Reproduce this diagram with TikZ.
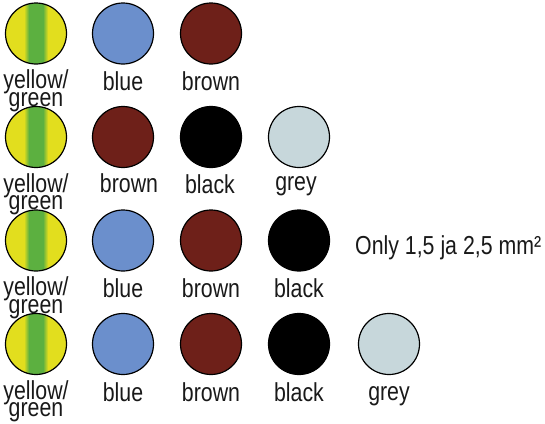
\documentclass[tikz,border=0pt]{standalone}
\usepackage{fontspec}
\setmainfont[FakeStretch=0.82]{Liberation Sans}
\definecolor{ygyellow}{RGB}{226,222,30}
\definecolor{yggreen}{RGB}{92,176,64}
\definecolor{wblue}{RGB}{107,143,204}
\definecolor{wbrown}{RGB}{110,32,25}
\definecolor{wgrey}{RGB}{199,215,219}
\tikzset{
  wire/.style={circle, draw=black, line width=1.2pt, minimum size=61pt, inner sep=0pt},
  yg/.style={wire, path picture={
    \fill[ygyellow] (path picture bounding box.south west) rectangle (path picture bounding box.north east);
    \shade[left color=ygyellow, right color=yggreen] ([xshift=-12pt]path picture bounding box.south) rectangle ([xshift=-7pt]path picture bounding box.north);
    \fill[yggreen] ([xshift=-7pt]path picture bounding box.south) rectangle ([xshift=7pt]path picture bounding box.north);
    \shade[left color=yggreen, right color=ygyellow] ([xshift=7pt]path picture bounding box.south) rectangle ([xshift=12pt]path picture bounding box.north);
  }},
  lbl/.style={anchor=base, inner sep=0pt, font=\fontsize{26}{26}\selectfont, text=black!90},
}
\begin{document}
\begin{tikzpicture}[x=1pt, y=-1pt]
\useasboundingbox (0,0) rectangle (545,423);
% row 1
\node[yg] (yg1) at (36,33.5) {};
\node[wire, fill=wblue] (bl1) at (123,33.5) {};
\node[wire, fill=wbrown] (br1) at (211,33.5) {};
\node[lbl] (tyg1a) at (36,88.5) {yellow/};
\node[lbl] (tyg1b) at (36,106) {green};
\node[lbl] (tbl1) at (123,90.5) {blue};
\node[lbl] (tbr1) at (211,90.5) {brown};
% row 2
\node[yg] (yg2) at (36,137) {};
\node[wire, fill=wbrown] (br2) at (123,137) {};
\node[wire, fill=black] (bk2) at (211,137) {};
\node[wire, fill=wgrey] (gr2) at (299,137) {};
\node[lbl] (tyg2a) at (36,192) {yellow/};
\node[lbl] (tyg2b) at (36,209.5) {green};
\node[lbl] (tbr2) at (129,192) {brown};
\node[lbl] (tbk2) at (210,193) {black};
\node[lbl] (tgr2) at (296,190) {grey};
% row 3
\node[yg] (yg3) at (36,240.5) {};
\node[wire, fill=wblue] (bl3) at (123,240.5) {};
\node[wire, fill=wbrown] (br3) at (211,240.5) {};
\node[wire, fill=black] (bk3) at (299,240.5) {};
\node[lbl] (tyg3a) at (36,295.5) {yellow/};
\node[lbl] (tyg3b) at (36,313) {green};
\node[lbl] (tbl3) at (123,297.5) {blue};
\node[lbl] (tbr3) at (211,297.5) {brown};
\node[lbl] (tbk3) at (299,297.5) {black};
\node[lbl, anchor=base west] (note) at (355,254) {Only 1,5 ja 2,5 mm²};
% row 4
\node[yg] (yg4) at (36,344) {};
\node[wire, fill=wblue] (bl4) at (123,344) {};
\node[wire, fill=wbrown] (br4) at (211,344) {};
\node[wire, fill=black] (bk4) at (299,344) {};
\node[wire, fill=wgrey] (gr4) at (389,344) {};
\node[lbl] (tyg4a) at (36,399) {yellow/};
\node[lbl] (tyg4b) at (36,416.5) {green};
\node[lbl] (tbl4) at (123,401) {blue};
\node[lbl] (tbr4) at (211,401) {brown};
\node[lbl] (tbk4) at (299,401) {black};
\node[lbl] (tgr4) at (389,400) {grey};
\end{tikzpicture}
\end{document}
